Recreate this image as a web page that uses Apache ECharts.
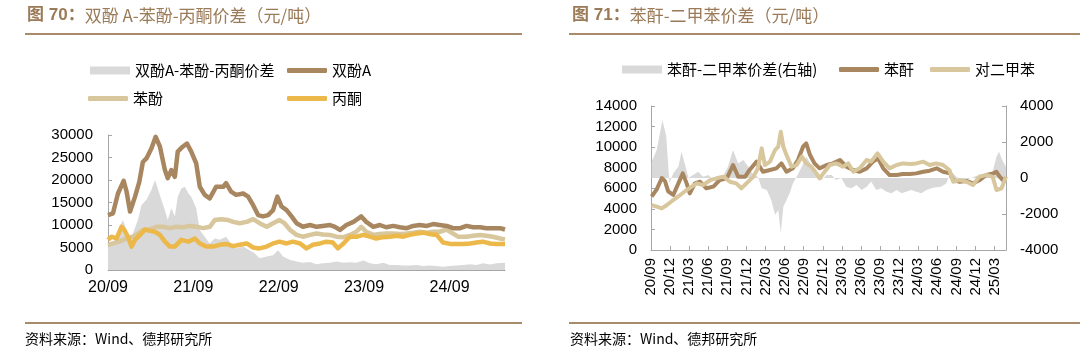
<!DOCTYPE html>
<html><head><meta charset="utf-8">
<script src="https://cdn.jsdelivr.net/npm/echarts@6/dist/echarts.min.js"></script>
<style>html,body{margin:0;padding:0;background:#fff}#c{width:1080px;height:355px}</style>
</head><body><div id="c"></div>
<script>
// x values: months since 2020-09
const bpaSpread = [[0,5200],[0.7,5600],[1.4,8900],[2.1,11100],[2.6,8900],[3.0,5200],[3.5,8100],[4.2,11100],[4.7,14400],[5.4,15600],[6.1,17800],[6.6,20000],[7.0,18100],[7.5,15600],[8.0,13300],[8.4,11100],[8.9,13700],[9.4,11900],[9.8,16300],[10.3,18100],[10.8,18500],[11.3,17000],[11.7,16300],[12.4,13700],[12.9,8900],[13.6,7400],[14.3,5900],[15.0,7000],[15.7,6700],[16.6,7400],[17.3,5900],[18.0,4800],[19.0,5200],[19.9,4400],[20.6,3700],[21.3,2600],[22.3,3000],[23.2,3300],[23.9,4400],[24.6,3000],[25.6,2200],[26.5,1900],[27.4,1600],[28.4,1800],[29.3,1300],[30.2,1500],[31.2,1600],[32.1,1900],[33.1,1600],[34.0,1700],[34.9,1600],[35.9,2100],[36.8,1500],[37.7,1300],[38.7,1600],[39.6,1100],[40.6,1100],[41.5,1000],[42.4,1000],[43.4,1100],[44.3,900],[45.2,1000],[46.2,900],[47.1,700],[48.1,900],[49.0,1000],[49.9,1100],[50.9,1300],[51.8,1100],[52.7,1500],[53.7,1200],[54.6,1500],[55.8,1600]];
const bpa = [[0,12200],[0.7,12600],[1.4,17000],[2.2,19800],[2.6,17500],[3.1,13000],[3.8,16300],[4.4,19600],[4.9,24000],[5.4,24800],[6.1,27000],[6.7,29600],[7.3,27400],[8.0,22200],[8.4,20400],[8.9,22200],[9.4,20700],[9.8,26300],[10.5,27400],[11.1,28100],[11.7,26300],[12.4,23700],[12.9,18500],[13.6,16700],[14.3,15900],[15.2,18500],[16.2,18500],[16.6,19300],[17.3,17400],[18.0,16700],[19.0,17000],[19.7,16300],[20.4,14400],[21.1,12200],[21.8,11900],[22.5,12200],[23.2,13300],[23.8,16300],[24.4,14100],[25.1,13300],[25.8,11900],[26.5,10400],[27.4,9600],[28.4,10000],[29.3,9600],[30.2,9800],[31.2,10000],[31.9,9600],[32.6,8900],[33.5,10000],[34.5,10700],[35.6,11900],[36.3,10700],[37.3,9600],[38.2,10000],[39.1,9500],[40.1,9800],[41.0,9500],[42.0,9300],[42.9,9800],[43.8,10000],[44.8,9800],[45.7,10200],[46.6,10000],[47.6,9800],[48.5,9300],[49.5,9300],[50.4,9800],[51.3,9500],[52.3,9500],[53.2,9300],[54.1,9300],[55.1,9300],[55.8,9000]];
const phenol = [[0,5600],[0.7,5900],[1.6,6300],[2.6,7000],[3.5,7400],[4.2,8100],[4.9,8900],[5.9,9000],[6.8,9600],[7.7,9600],[8.7,9300],[9.6,9600],[10.5,9500],[11.5,9800],[12.4,9600],[13.4,9300],[14.3,9600],[15.0,11100],[15.9,11300],[16.9,11100],[17.6,10700],[18.5,10400],[19.5,10700],[20.4,11300],[21.3,10400],[22.3,9600],[23.2,10400],[24.1,11100],[24.8,10400],[25.6,8900],[26.5,7800],[27.4,7400],[28.4,7800],[29.3,8100],[30.2,7900],[31.2,7800],[32.1,7400],[33.1,7300],[34.0,7800],[34.9,8500],[35.6,9600],[36.3,8500],[37.3,7800],[38.2,8000],[39.1,8100],[40.1,8100],[41.0,8000],[42.0,8100],[42.9,8300],[43.8,8500],[44.8,8300],[45.7,8500],[46.6,8500],[47.6,9000],[48.5,8100],[49.2,7400],[50.4,7400],[51.3,7600],[52.3,7800],[53.2,7600],[54.1,7400],[55.1,7000],[55.8,6800]];
const acetone = [[0,6700],[0.5,7400],[1.2,7000],[1.9,9600],[2.3,8900],[2.8,7400],[3.3,5200],[3.8,6700],[4.5,7800],[5.2,9000],[5.9,8700],[6.6,8500],[7.3,7800],[8.0,6300],[8.7,5200],[9.4,5200],[10.3,6700],[11.3,6300],[12.2,7000],[12.9,5900],[13.8,5200],[14.8,5200],[15.7,5600],[16.6,5800],[17.6,5300],[18.5,5600],[19.5,5900],[20.4,5000],[21.3,4800],[22.3,5200],[23.2,5900],[24.1,6300],[25.1,5900],[26.0,6300],[27.0,5900],[27.9,4800],[28.8,5600],[29.8,5900],[30.7,6300],[31.6,6100],[32.3,4800],[33.1,5900],[34.0,7400],[34.9,7400],[35.9,7800],[36.8,7400],[37.7,7000],[38.7,7300],[39.6,7400],[40.6,7600],[41.5,7400],[42.4,7800],[43.4,8100],[44.3,8300],[45.2,8000],[46.2,7800],[47.1,6100],[48.1,5800],[49.0,5800],[49.9,5800],[50.9,5900],[51.8,6100],[52.7,6300],[53.7,5900],[54.6,5800],[55.8,5800]];

const paSpread = [[0.1,900],[0.9,1550],[1.4,2480],[1.8,3220],[2.4,2300],[2.9,-300],[3.5,260],[4.3,630],[4.8,1460],[5.3,810],[5.9,0],[6.6,170],[7.4,350],[8.2,70],[9.0,170],[9.8,-110],[10.6,-300],[11.4,170],[12.1,630],[12.9,1550],[13.7,810],[14.5,1000],[15.3,630],[16.1,170],[16.8,70],[17.4,-570],[18.2,-670],[18.9,-1220],[19.5,-2060],[20.0,-1780],[20.4,-3070],[20.8,-1590],[21.3,-1220],[21.8,-850],[22.3,-300],[22.9,70],[23.7,630],[24.4,1180],[25.2,720],[26.0,170],[26.8,-110],[27.6,170],[28.4,170],[29.1,-110],[29.9,0],[30.7,-480],[31.5,-570],[32.3,-390],[33.1,-670],[33.9,-480],[34.6,-200],[35.4,-670],[36.2,-570],[37.0,-760],[37.8,-850],[38.6,-670],[39.4,-850],[40.1,-760],[40.9,-670],[41.7,-760],[42.5,-850],[43.3,-670],[44.1,-570],[44.8,-520],[45.6,-480],[46.4,-300],[47.2,350],[48.0,70],[48.8,-110],[49.6,-110],[50.3,0],[51.1,110],[51.9,70],[52.7,170],[53.5,70],[54.3,1180],[54.7,1460],[55.2,1000],[55.8,630]];
const pa = [[0.1,5200],[0.9,5900],[1.7,7000],[2.2,6700],[2.7,5700],[3.5,5350],[4.3,6480],[5.0,7450],[5.6,6480],[6.1,5510],[6.9,6480],[7.7,6640],[8.7,6000],[9.8,6160],[10.8,6800],[11.9,6970],[12.9,8260],[13.7,7130],[14.8,7130],[15.5,7780],[16.6,8590],[17.6,7610],[18.7,7780],[19.7,7940],[20.5,8420],[21.3,7610],[22.3,7940],[23.1,8750],[23.9,10040],[24.4,10370],[25.0,9230],[25.7,8420],[26.5,7940],[27.6,8260],[28.6,8420],[29.7,8750],[30.7,8100],[31.8,7780],[32.8,7610],[33.9,7940],[34.9,8590],[35.7,8910],[36.5,7940],[37.5,7290],[38.6,7290],[39.6,7390],[40.7,7390],[41.7,7450],[42.8,7610],[43.8,7710],[44.9,7940],[45.9,7610],[47.0,7450],[47.5,6800],[48.5,6640],[49.6,6710],[50.6,6480],[51.7,6800],[52.7,7290],[53.8,7450],[54.3,7610],[54.8,7130],[55.3,6800],[55.8,6970]];
const px = [[0.1,4370],[0.9,4210],[1.7,4050],[2.5,4370],[3.5,4860],[4.6,5350],[5.6,5830],[6.4,6160],[7.2,6480],[8.2,6320],[9.3,6800],[10.3,6970],[11.4,7130],[12.4,6640],[13.4,6480],[14.2,6000],[15.0,6480],[16.1,7130],[16.8,7940],[17.4,9880],[17.9,8260],[18.7,8590],[19.5,9720],[20.0,10040],[20.4,11500],[20.8,10040],[21.3,9230],[22.1,8100],[22.9,8260],[23.7,9070],[24.4,8420],[25.2,8100],[26.0,7450],[26.5,6970],[27.3,7610],[28.1,8260],[29.1,8420],[30.2,8100],[31.0,8420],[31.8,7610],[32.8,7940],[33.9,8750],[34.6,8590],[35.6,9390],[36.5,8590],[37.5,7940],[38.6,8260],[39.6,8420],[40.7,8360],[41.7,8420],[42.8,8590],[43.8,8260],[44.8,8420],[45.9,8260],[46.9,7780],[47.5,6640],[48.5,6800],[49.6,6640],[50.6,6320],[51.6,7130],[52.7,7290],[53.7,7130],[54.3,5830],[55.1,6000],[55.6,6800],[55.8,7130]];

const leftTicks = [0,5000,10000,15000,20000,25000,30000];
const startYear = 2020, startMonth = 9;

function fmtMonth(v){
  const t = (startYear*12 + startMonth - 1) + Math.round(v);
  const y = Math.floor(t/12) % 100, m = t%12 + 1;
  return String(y).padStart(2,'0') + '/' + String(m).padStart(2,'0');
}
const plain = v => String(v);

const C_GRAY='#d9d9d9', C_BROWN='#a8865f', C_TAN='#d8c69c', C_YEL='#ecb84a';
const TITLE='#9a7a57', RULE='#a98c6c';
const FF='"Liberation Sans", Arial, "Noto Sans CJK SC", sans-serif';
const CJK='"Noto Sans CJK SC", sans-serif';
const axisCol='#a6a6a6';
const lbl = {color:'#000', fontSize:15, fontFamily:FF, formatter:plain};

function legend(left, top, name, icon, h){
  return {left, top, padding:0, itemWidth:40, itemHeight:h, icon, itemGap:0, data:[name],
    textStyle:{color:'#000', fontSize:15, fontFamily:CJK}};
}

const chart = echarts.init(document.getElementById('c'), null, {renderer:'canvas'});
chart.setOption({
  animation:false,
  backgroundColor:'#fff',
  graphic:[
    {type:'text', left:27, top:7, style:{text:'{b|图 70：}双酚 A-苯酚-丙酮价差（元/吨）', fill:TITLE, font:'17px "Noto Sans CJK SC"', rich:{b:{fontWeight:'bold', fontSize:17, fill:TITLE, fontFamily:FF}}}},
    {type:'text', left:572, top:7, style:{text:'{b|图 71：}苯酐-二甲苯价差（元/吨）', fill:TITLE, font:'17px "Noto Sans CJK SC"', rich:{b:{fontWeight:'bold', fontSize:17, fill:TITLE, fontFamily:FF}}}},
    {type:'rect', shape:{x:25,y:33,width:497,height:2}, style:{fill:RULE}},
    {type:'rect', shape:{x:569,y:33,width:511,height:2}, style:{fill:RULE}},
    {type:'rect', shape:{x:25,y:322,width:497,height:2}, style:{fill:RULE}},
    {type:'rect', shape:{x:569,y:322,width:511,height:2}, style:{fill:RULE}},
    {type:'text', left:25, top:332, style:{text:'资料来源：Wind、德邦研究所', fill:'#000', font:'14px "Noto Sans CJK SC"'}},
    {type:'text', left:570, top:332, style:{text:'资料来源：Wind、德邦研究所', fill:'#000', font:'14px "Noto Sans CJK SC"'}}
  ],
  legend:[
    legend(90,63,'双酚A-苯酚-丙酮价差','rect',8),
    legend(287,63,'双酚A','roundRect',5),
    legend(88,91,'苯酚','roundRect',5),
    legend(287,91,'丙酮','roundRect',5),
    legend(622,62,'苯酐-二甲苯价差(右轴)','rect',8),
    legend(839,62,'苯酐','roundRect',5),
    legend(930,62,'对二甲苯','roundRect',5)
  ],
  grid:[
    {left:108, top:135, width:397, height:135},
    {left:651, top:106, width:355, height:144}
  ],
  xAxis:[
    {gridIndex:0, type:'value', min:0, max:55.8, interval:12, splitLine:{show:false},
     axisLine:{lineStyle:{color:axisCol}}, axisTick:{inside:true, length:4, lineStyle:{color:axisCol}},
     axisLabel:Object.assign({}, lbl, {formatter:fmtMonth, showMaxLabel:false, margin:10, fontSize:16})},
    {gridIndex:1, type:'value', min:0, max:55.8, interval:3, splitLine:{show:false},
     axisLine:{lineStyle:{color:axisCol}}, axisTick:{inside:true, length:4, lineStyle:{color:axisCol}},
     axisLabel:Object.assign({}, lbl, {formatter:fmtMonth, showMaxLabel:false, rotate:90, margin:8, fontSize:15})}
  ],
  yAxis:[
    {gridIndex:0, type:'value', min:leftTicks[0], max:leftTicks[leftTicks.length-1], interval:5000, splitLine:{show:false},
     axisLine:{show:true, lineStyle:{color:axisCol}}, axisTick:{show:true, inside:true, length:4, lineStyle:{color:axisCol}},
     axisLabel:Object.assign({}, lbl, {margin:15})},
    {gridIndex:1, type:'value', min:0, max:14000, interval:2000, splitLine:{show:false},
     axisLine:{show:true, lineStyle:{color:axisCol}}, axisTick:{show:true, inside:true, length:4, lineStyle:{color:axisCol}},
     axisLabel:Object.assign({}, lbl, {margin:14})},
    {gridIndex:1, type:'value', position:'right', min:-4000, max:4000, interval:2000, splitLine:{show:false},
     axisLine:{show:true, lineStyle:{color:axisCol}}, axisTick:{show:true, inside:true, length:4, lineStyle:{color:axisCol}},
     axisLabel:Object.assign({}, lbl, {margin:14})}
  ],
  series:[
    {name:'双酚A-苯酚-丙酮价差', type:'line', xAxisIndex:0, yAxisIndex:0, data:bpaSpread, symbol:'none',
     lineStyle:{width:0, color:C_GRAY}, itemStyle:{color:C_GRAY}, areaStyle:{color:C_GRAY, opacity:1}},
    {name:'苯酚', type:'line', xAxisIndex:0, yAxisIndex:0, data:phenol, symbol:'none', lineStyle:{width:4.5, color:C_TAN, join:'round'}, itemStyle:{color:C_TAN}},
    {name:'丙酮', type:'line', xAxisIndex:0, yAxisIndex:0, data:acetone, symbol:'none', lineStyle:{width:4.5, color:C_YEL, join:'round'}, itemStyle:{color:C_YEL}},
    {name:'双酚A', type:'line', xAxisIndex:0, yAxisIndex:0, data:bpa, symbol:'none', lineStyle:{width:4.5, color:C_BROWN, join:'round'}, itemStyle:{color:C_BROWN}},
    {name:'苯酐-二甲苯价差(右轴)', type:'line', xAxisIndex:1, yAxisIndex:2, data:paSpread, symbol:'none',
     lineStyle:{width:0, color:C_GRAY}, itemStyle:{color:C_GRAY}, areaStyle:{color:C_GRAY, opacity:1}},
    {name:'苯酐', type:'line', xAxisIndex:1, yAxisIndex:1, data:pa, symbol:'none', lineStyle:{width:4, color:C_BROWN, join:'round'}, itemStyle:{color:C_BROWN}},
    {name:'对二甲苯', type:'line', xAxisIndex:1, yAxisIndex:1, data:px, symbol:'none', lineStyle:{width:4, color:C_TAN, join:'round'}, itemStyle:{color:C_TAN}}
  ]
});
</script></body></html>
